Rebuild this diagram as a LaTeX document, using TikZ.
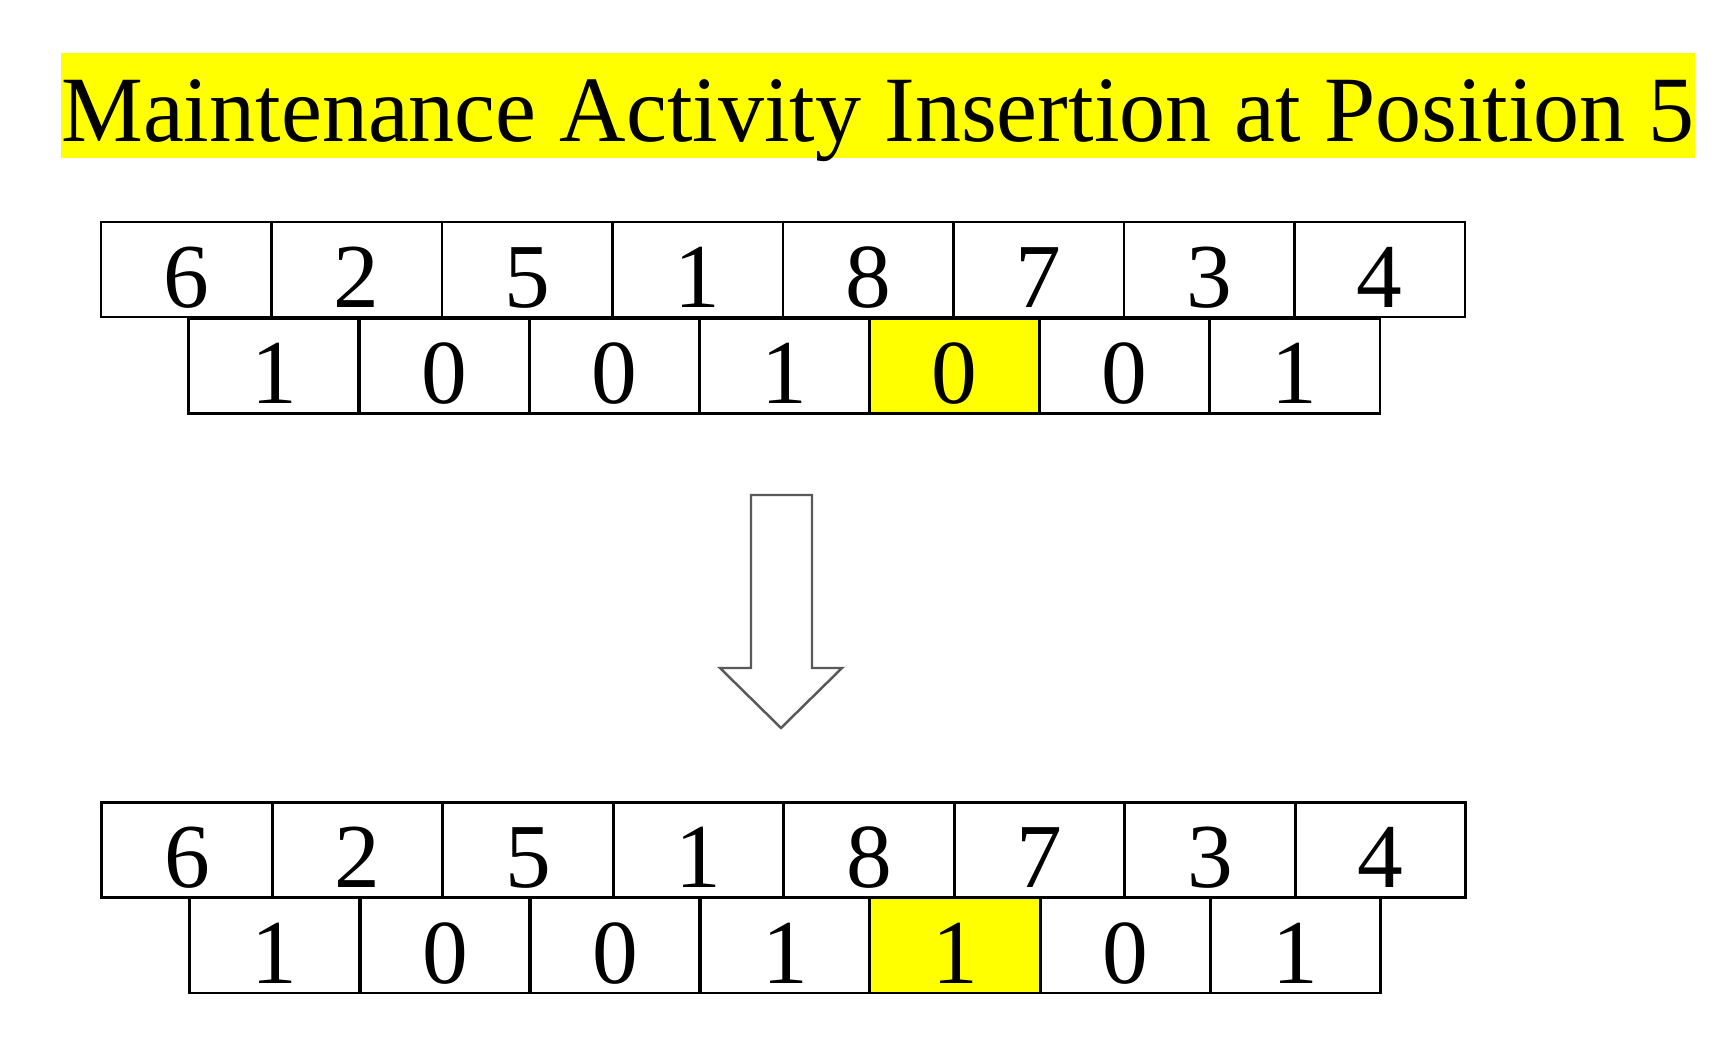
\documentclass[tikz,border=0pt]{standalone}
\usepackage{fontspec}
\setmainfont{Liberation Serif}
\definecolor{hilite}{RGB}{255,255,0}

\begin{document}
\begin{tikzpicture}[x=0.01cm, y=-0.01cm,
    cell/.style={draw, line width=0.8pt, inner sep=0pt, minimum width=1.705cm, minimum height=0.95cm, text height=0.75cm, text depth=0pt, font=\fontsize{26}{30}\selectfont},
    marked/.style={cell, fill=hilite},
    banner/.style={fill=hilite, inner sep=0pt, minimum width=16.34cm, minimum height=1.05cm, text height=0.72cm, text depth=0pt, font=\fontsize{26.6}{30}\selectfont},
    blockarrow/.style={draw=black!65, line width=0.7pt, fill=white}]
    \useasboundingbox (0,0) rectangle (1735,1046);
    % title
    \node[banner] (title) at (878,105.5) {\scalebox{0.984}[1]{Maintenance Activity Insertion at Position 5}};
    % before insertion
    \foreach \v [count=\i] in {6,2,5,1,8,7,3,4}
        \node[cell] (jobA\i) at ({15.75+170.5*\i},269.5) {\v};
    \foreach \v/\s [count=\i] in {1/cell,0/cell,0/cell,1/cell,0/marked,0/cell,1/cell}
        \node[\s] (bitA\i) at ({103.95+170.1*\i},366) {\v};
    % arrow
    \draw[blockarrow] (751,495) -- (812,495) -- (812,668) -- (842,668) -- (781,728) -- (720,668) -- (751,668) -- cycle;
    % after insertion
    \foreach \v [count=\i] in {6,2,5,1,8,7,3,4}
        \node[cell] (jobB\i) at ({16.5+170.5*\i},850) {\v};
    \foreach \v/\s [count=\i] in {1/cell,0/cell,0/cell,1/cell,1/marked,0/cell,1/cell}
        \node[\s] (bitB\i) at ({104.7+170.1*\i},945.5) {\v};
\end{tikzpicture}
\end{document}
